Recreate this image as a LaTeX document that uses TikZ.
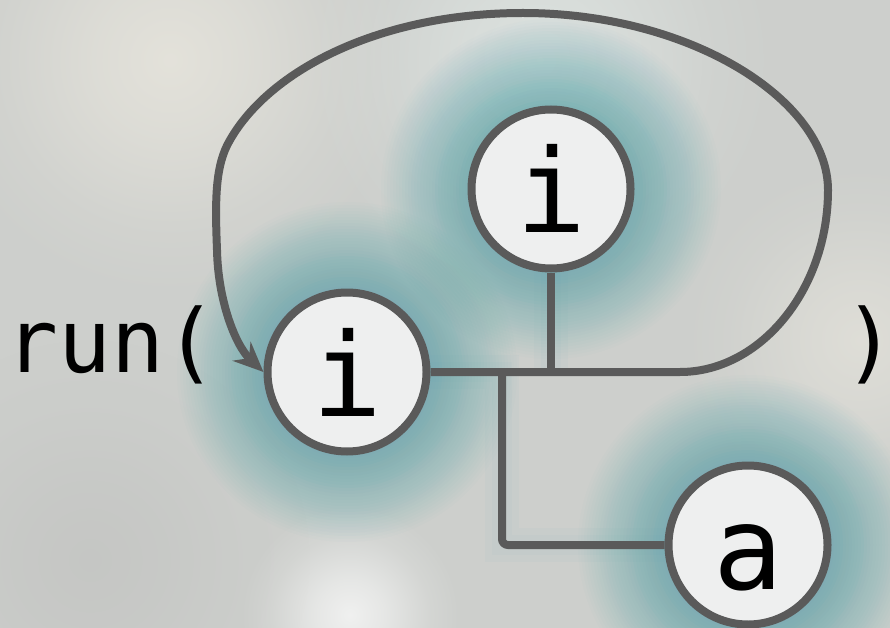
\documentclass[tikz,border=0pt]{standalone}
\usepackage{fontspec}
\newfontfamily\codefont{DejaVu Sans Mono}
\usetikzlibrary{arrows.meta,fadings}

\definecolor{bgbase}{HTML}{CDCFCC}
\definecolor{bgwarm}{HTML}{E6E4DC}
\definecolor{bgmint}{HTML}{E0E7E4}
\definecolor{bgdark}{HTML}{C2C3C1}
\definecolor{halo}{HTML}{62ACB3}
\definecolor{edgegrey}{HTML}{5A5A5A}
\definecolor{nodefill}{HTML}{EEEFEF}

% soft blotch for the backdrop
\pgfdeclareradialshading{blotchshade}{\pgfpointorigin}{color(0bp)=(white); color(8bp)=(black!30); color(18bp)=(black!80); color(25bp)=(black); color(50bp)=(black)}
\pgfdeclarefading{blotchfade}{\pgfuseshading{blotchshade}}

\tikzset{
  vertex/.style={circle, draw=edgegrey, line width=8pt, fill=nodefill,
    minimum size=159pt, inner sep=0pt, text=black,
    font=\codefont\fontsize{116}{116}\selectfont,
    text height=88pt, text depth=0pt},
  link/.style={draw=edgegrey, line width=8pt},
  codetext/.style={font=\codefont\fontsize{88}{88}\selectfont, inner sep=0pt,
    anchor=base west, text=black},
  blotch/.style={path fading=blotchfade},
  linkglow/.style={draw=halo, draw opacity=0.04},
}

% stacked translucent rings give a soft halo; outer rings are fainter
\newcommand\halo[1]{%
  \foreach \r [evaluate=\r as \op using {0.045-0.00025*(\r-86)}] in {86,89,...,170}
    \fill[halo, fill opacity=\op] #1 circle (\r);}

\begin{document}
\begin{tikzpicture}[x=1pt,y=-1pt]
  \useasboundingbox (0,0) rectangle (890,628);

  % backdrop
  \fill[bgbase] (0,0) rectangle (890,628);
  \fill[bgwarm, blotch, fill opacity=.9] (170,60) circle (240);
  \fill[bgmint, blotch, fill opacity=.8] (540,60) circle (240);
  \fill[bgwarm, blotch, fill opacity=.7] (860,340) circle (180);
  \fill[bgdark, blotch, fill opacity=.7] (90,560) circle (220);
  \fill[white, blotch, fill opacity=.7] (350,615) circle (110);

  % halos around the vertices
  \halo{(347,372)}
  \halo{(551,189)}
  \halo{(748,545)}

  % junction and loop waypoints
  \coordinate (ja) at (502,372);
  \coordinate (jt) at (551,372);
  \coordinate (jb) at (502,545);
  \coordinate (loopA) at (680,372);
  \coordinate (loopR) at (828,190);
  \coordinate (loopT) at (523,13);
  \coordinate (loopB) at (230,140);
  \coordinate (loopL) at (217,250);

  % faint glow along the short connectors
  \foreach \w in {20,34}{
    \draw[linkglow, line width=\w pt] (347,372) -- (ja) -- (jb) -- (748,545);
    \draw[linkglow, line width=\w pt] (551,189) -- (jt);
  }

  % vertices
  \node[vertex] (li) at (347,372) {i};
  \node[vertex] (ti) at (551,189) {i};
  \node[vertex] (av) at (748,545) {a};

  % surrounding code text
  \node[codetext] (open)  at (5,372)  {run(};
  \node[codetext] (close) at (843,372) {\makebox[0.48em][l]{)}};

  % connectors
  \draw[link] (ti.south) -- (ti.south |- li.east);
  \draw[link, rounded corners=6pt] (ja) |- (av.west);
  \draw[link, -{Stealth[length=30pt,width=26pt,inset=10pt]}]
    (li.east) -- (loopA)
    .. controls (760,372) and (828,290) .. (loopR)
    .. controls (828,100) and (690,13) .. (loopT)
    .. controls (380,13) and (270,70) .. (loopB)
    .. controls (215,165) and (215,200) .. (loopL)
    .. controls (218,300) and (235,345) .. (li.west);
\end{tikzpicture}
\end{document}
